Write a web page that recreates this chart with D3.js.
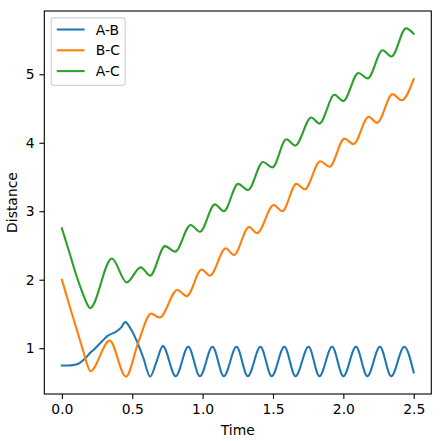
<!DOCTYPE html>
<html>
<head>
<meta charset="utf-8">
<script src="https://cdn.jsdelivr.net/npm/d3@7"></script>
<style>
  body { margin: 0; background: #fff; }
  text { font-family: "DejaVu Sans", sans-serif; }
</style>
</head>
<body>
<div id="vis-container"></div>
<script>
// values (time, distance) at turning points
const abTime = [0, 0.05, 0.1, 0.13, 0.17, 0.2, 0.23, 0.28, 0.325, 0.384, 0.42, 0.45, 0.49, 0.537, 0.58, 0.627, 0.672, 0.717,
  0.809, 0.898, 0.981, 1.07, 1.151, 1.241, 1.321, 1.411, 1.491, 1.581, 1.66, 1.753, 1.83, 1.92, 2.0, 2.09, 2.17, 2.26, 2.34, 2.433, 2.5];
const abDist = [0.746, 0.747, 0.76, 0.79, 0.86, 0.93, 0.985, 1.09, 1.18, 1.24, 1.3, 1.38, 1.28, 1.08, 0.85, 0.585, 0.8, 1.03,
  0.59, 1.02, 0.59, 1.02, 0.59, 1.02, 0.59, 1.02, 0.59, 1.02, 0.59, 1.02, 0.59, 1.02, 0.59, 1.02, 0.59, 1.02, 0.59, 1.02, 0.644];

const bcTime = [0, 0.05, 0.1, 0.15, 0.18, 0.202, 0.339, 0.455, 0.545, 0.634, 0.695, 0.82, 0.887, 0.993, 1.052, 1.165, 1.222,
  1.33, 1.387, 1.505, 1.566, 1.666, 1.725, 1.836, 1.902, 2.008, 2.072, 2.18, 2.239, 2.35, 2.414, 2.5];
const bcDist = [2.0, 1.65, 1.31, 0.97, 0.76, 0.664, 1.11, 0.585, 1.1, 1.505, 1.447, 1.85, 1.76, 2.15, 2.06, 2.46, 2.36,
  2.77, 2.68, 3.09, 3.0, 3.40, 3.32, 3.73, 3.65, 4.06, 3.98, 4.38, 4.29, 4.71, 4.62, 4.93];

const acTime = [0, 0.05, 0.1, 0.15, 0.18, 0.2, 0.355, 0.46, 0.56, 0.627, 0.733, 0.804, 0.915, 0.981, 1.087, 1.151, 1.252,
  1.323, 1.429, 1.496, 1.595, 1.659, 1.772, 1.83, 1.937, 2.0, 2.107, 2.173, 2.279, 2.343, 2.445, 2.5];
const acDist = [2.75, 2.42, 2.08, 1.79, 1.64, 1.584, 2.31, 1.96, 2.18, 2.06, 2.49, 2.41, 2.8, 2.70, 3.10, 3.0, 3.40,
  3.31, 3.72, 3.64, 4.05, 3.96, 4.37, 4.28, 4.70, 4.61, 5.02, 4.94, 5.35, 5.26, 5.67, 5.59];

const seriesNames = ["A-B", "B-C", "A-C"];
const seriesColors = ["#1f77b4", "#ff7f0e", "#2ca02c"];
const xTicks = [0.0, 0.5, 1.0, 1.5, 2.0, 2.5];
const yTicks = [1, 2, 3, 4, 5];

const series = [
  { name: seriesNames[0], color: seriesColors[0], pts: abTime.map((t, i) => [t, abDist[i]]) },
  { name: seriesNames[1], color: seriesColors[1], pts: bcTime.map((t, i) => [t, bcDist[i]]) },
  { name: seriesNames[2], color: seriesColors[2], pts: acTime.map((t, i) => [t, acDist[i]]) }
];

const W = 443, H = 441;
const plot = { left: 44.3, right: 431.3, top: 11, bottom: 394 };
const fontSize = "13.9px";

const svg = d3.select("#vis-container")
  .append("svg")
    .attr("width", W)
    .attr("height", H);

// matplotlib style 5% padding
const allT = series.flatMap(s => s.pts.map(p => p[0]));
const allD = series.flatMap(s => s.pts.map(p => p[1]));
const [tMin, tMax] = d3.extent(allT);
const [dMin, dMax] = d3.extent(allD);
const tPad = (tMax - tMin) * 0.05, dPad = (dMax - dMin) * 0.05;

const x = d3.scaleLinear()
  .domain([tMin - tPad, tMax + tPad])
  .range([plot.left, plot.right]);

const y = d3.scaleLinear()
  .domain([dMin - dPad, dMax + dPad])
  .range([plot.bottom, plot.top]);

// lines
const line = d3.line()
  .x(d => x(d[0]))
  .y(d => y(d[1]))
  .curve(d3.curveMonotoneX);

svg.append("g")
  .selectAll("path")
  .data(series)
  .enter()
    .append("path")
    .attr("d", d => line(d.pts))
    .attr("fill", "none")
    .attr("stroke", d => d.color)
    .attr("stroke-width", 2.08)
    .attr("stroke-linejoin", "round")
    .attr("stroke-linecap", "square");

// axes
const xAxis = svg.append("g")
  .attr("transform", `translate(0, ${plot.bottom})`)
  .call(d3.axisBottom(x).tickValues(xTicks).tickFormat(d3.format(".1f")).tickSize(4.9).tickPadding(4.9));

const yAxis = svg.append("g")
  .attr("transform", `translate(${plot.left}, 0)`)
  .call(d3.axisLeft(y).tickValues(yTicks).tickFormat(d3.format("d")).tickSize(4.9).tickPadding(4.9));

[xAxis, yAxis].forEach(a => {
  a.select(".domain").remove();
  a.selectAll("line").attr("stroke", "#000").attr("stroke-width", 1.1);
  a.selectAll("text").attr("fill", "#000").style("font-size", fontSize).style("font-family", "DejaVu Sans");
});

// frame
svg.append("rect")
  .attr("x", plot.left)
  .attr("y", plot.top)
  .attr("width", plot.right - plot.left)
  .attr("height", plot.bottom - plot.top)
  .attr("fill", "none")
  .attr("stroke", "#000")
  .attr("stroke-width", 1.1);

// axis labels
svg.append("text")
  .attr("x", (plot.left + plot.right) / 2)
  .attr("y", 435)
  .attr("text-anchor", "middle")
  .style("font-size", fontSize)
  .text("Time");

svg.append("text")
  .attr("transform", `translate(17, ${(plot.top + plot.bottom) / 2}) rotate(-90)`)
  .attr("text-anchor", "middle")
  .style("font-size", fontSize)
  .text("Distance");

// legend
const legend = svg.append("g");
legend.append("rect")
  .attr("x", 51.2)
  .attr("y", 17.9)
  .attr("width", 74)
  .attr("height", 67.5)
  .attr("rx", 2.8)
  .attr("fill", "#fff")
  .attr("fill-opacity", 0.8)
  .attr("stroke", "#d0d0d0")
  .attr("stroke-width", 1.1);

const items = legend.selectAll(".item")
  .data(series)
  .enter()
    .append("g")
    .attr("transform", (d, i) => `translate(0, ${29.5 + i * 20.8})`);

items.append("line")
  .attr("x1", 56.8).attr("x2", 84.6)
  .attr("stroke", d => d.color)
  .attr("stroke-width", 2.08);

items.append("text")
  .attr("x", 95.7)
  .attr("dy", "0.36em")
  .style("font-size", fontSize)
  .text(d => d.name);
</script>
</body>
</html>
